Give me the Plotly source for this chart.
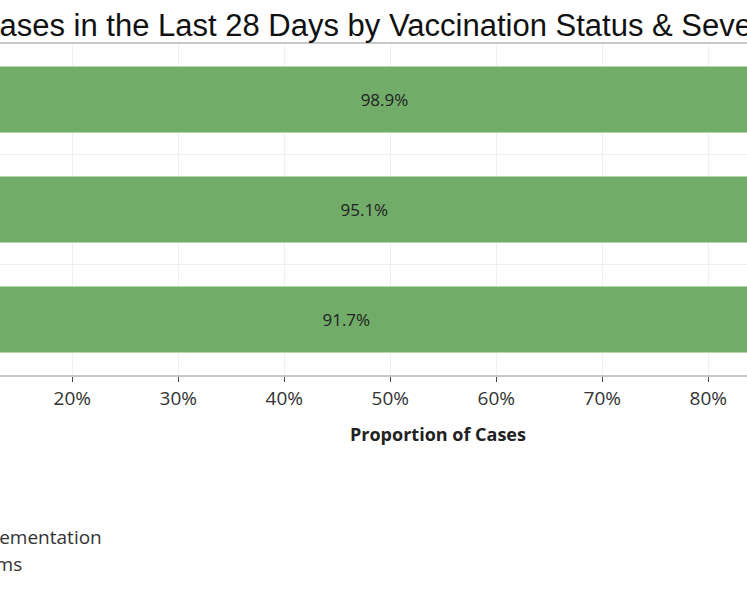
import plotly.graph_objects as go

# data, top bar first
severity = ["Deaths", "Hospitalizations", "Cases"]
unvaccinated_pct = [98.9, 95.1, 91.7]
vaccinated_pct = [1.1, 4.9, 8.3]
series_names = ["Unvaccinated or before vaccine implementation",
                "Vaccinated - with or without symptoms"]
x_ticks = [0, 10, 20, 30, 40, 50, 60, 70, 80, 90, 100]
tick_labels = [f"{t}%" for t in x_ticks]
title_text = "Proportion of Cases in the Last 28 Days by Vaccination Status & Severity"
x_title = "Proportion of Cases"

GREEN = "#71ac69"
BODY_FONT = "Open Sans"

fig = go.Figure()

fig.add_trace(go.Bar(
    y=severity,
    x=unvaccinated_pct,
    orientation="h",
    name=series_names[0],
    width=0.6,
    marker=dict(color=GREEN, line=dict(color="#b2d8aa", width=1)),
    text=[f"{v}%" for v in unvaccinated_pct],
    textposition="inside",
    insidetextanchor="middle",
    insidetextfont=dict(family=BODY_FONT, size=17, color="#222222"),
))

fig.add_trace(go.Bar(
    y=severity,
    x=vaccinated_pct,
    orientation="h",
    name=series_names[1],
    width=0.6,
    marker=dict(color="#4e79a7"),
    hoverinfo="x+y",
))

fig.update_layout(
    template="none",
    width=747,
    height=598,
    margin=dict(l=0, r=0, t=44, b=223, autoexpand=False),
    barmode="stack",
    paper_bgcolor="white",
    plot_bgcolor="white",
    showlegend=True,
    legend=dict(
        orientation="v",
        traceorder="normal",
        x=-0.485,
        xanchor="left",
        y=-0.43,
        yanchor="top",
        tracegroupgap=0,
        font=dict(family=BODY_FONT, size=19, color="#333333"),
        bgcolor="rgba(0,0,0,0)",
    ),
    xaxis=dict(
        range=[13.18, 83.65],
        tickvals=x_ticks,
        ticktext=tick_labels,
        ticks="outside",
        ticklen=5,
        tickcolor="#444444",
        tickfont=dict(family=BODY_FONT, size=19, color="#333333"),
        showline=True,
        linecolor="#c8c8c8",
        linewidth=1.5,
        showgrid=True,
        gridcolor="#efefef",
        zeroline=False,
        automargin=False,
    ),
    yaxis=dict(
        categoryorder="array",
        categoryarray=severity,
        autorange="reversed",
        tickson="boundaries",
        ticks="",
        showgrid=True,
        gridcolor="#efefef",
        zeroline=False,
        showline=False,
        automargin=False,
    ),
    shapes=[dict(
        type="line", xref="paper", yref="paper",
        x0=0, x1=1, y0=1.003, y1=1.003,
        line=dict(color="#c8c8c8", width=2),
    )],
    annotations=[
        dict(
            text=title_text,
            xref="paper", yref="paper",
            x=-0.2827, y=1.057,
            xanchor="left", yanchor="middle",
            showarrow=False,
            font=dict(family="Liberation Sans", size=31, color="#111111"),
        ),
        dict(
            text=f"<b>{x_title}</b>",
            xref="paper", yref="paper",
            x=438 / 747, y=-0.178,
            xanchor="center", yanchor="middle",
            showarrow=False,
            font=dict(family=BODY_FONT, size=18, color="#222222"),
        ),
    ],
)

# drop the page's default body margin so the figure starts at the window corner
fig.write_html("out.html", config={"displayModeBar": False},
               post_script="document.body.style.margin = '0';")
